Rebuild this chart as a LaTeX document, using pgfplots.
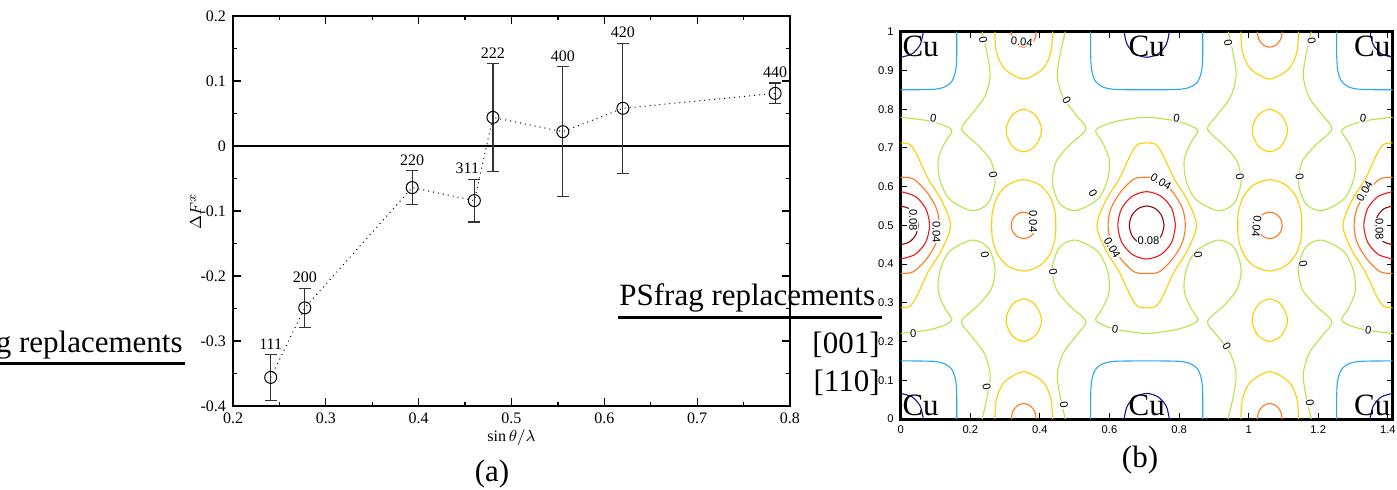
\documentclass[border=0pt]{standalone}
\usepackage{pgfplots}
\pgfplotsset{compat=1.18}
\usepackage{fontspec}
\setmainfont{Liberation Serif}
\setsansfont{Liberation Sans}
\definecolor{cdb}{RGB}{20,20,140}
\definecolor{clb}{RGB}{40,170,240}
\definecolor{cgr}{RGB}{180,230,70}
\definecolor{cye}{RGB}{255,205,0}
\definecolor{cor}{RGB}{255,120,30}
\definecolor{cre}{RGB}{235,25,25}
\definecolor{cdr}{RGB}{140,10,10}
\newcommand\bigf{\fontsize{15.5}{18}\selectfont}
\tikzset{
  cont/.style={smooth, line width=0.55pt},
  clab/.style={font=\sffamily\fontsize{5.6}{6}\selectfont, fill=white, inner sep=0.3pt},
}
\begin{document}
\begin{tikzpicture}
\path[use as bounding box] (0,0) rectangle (698.5pt,244.5pt);

% ---------- (a) ----------
\begin{axis}[
    at={(116.5pt,41.5pt)}, anchor=south west,
    scale only axis, width=278.5pt, height=195pt,
    xmin=0.2, xmax=0.8, ymin=-0.4, ymax=0.2,
    xtick={0.2,0.3,0.4,0.5,0.6,0.7,0.8},
    ytick={-0.4,-0.3,-0.2,-0.1,0,0.1,0.2},
    minor tick num=1, tick align=inside,
    major tick length=4pt, minor tick length=2pt,
    axis line style={line width=0.6pt},
    every tick/.style={black, line width=0.6pt},
    /pgf/number format/assume math mode=true,
    /pgf/number format/fixed, /pgf/number format/precision=1,
    tick label style={font=\fontsize{8}{8}\selectfont},
    xlabel={$\sin\theta/\lambda$}, ylabel={$\Delta F^{x}$},
    label style={font=\footnotesize},
    xlabel style={at={(axis description cs:0.5,-0.08)}, anchor=center},
    ylabel style={at={(axis description cs:-0.067,0.5)}, anchor=center},
]
\addplot[black, line width=0.6pt] coordinates {(0.2,0) (0.8,0)};
\addplot[black, dotted, line width=0.5pt, mark=o, mark size=3pt,
    mark options={solid, line width=0.5pt},
    error bars/.cd, y dir=both, y explicit,
    error bar style={solid, line width=0.6pt, black!80},
    error mark options={rotate=90, mark size=3pt, solid, line width=0.6pt, black!80}]
coordinates {
  (0.2406,-0.356) +- (0,0.035)
  (0.2773,-0.249) +- (0,0.030)
  (0.3930,-0.064) +- (0,0.026)
  (0.4600,-0.084) +- (0,0.033)
  (0.4800,0.044) +- (0,0.083)
  (0.5553,0.022) +- (0,0.100)
  (0.6200,0.058) +- (0,0.100)
  (0.7840,0.081) +- (0,0.016)};
\begin{scope}[every node/.style={font=\fontsize{8}{8}\selectfont, anchor=south, inner sep=0pt, yshift=2.5pt}]
\node at (axis cs:0.2406,-0.321) {111};
\node at (axis cs:0.2773,-0.219) {200};
\node at (axis cs:0.3930,-0.038) {220};
\node at (axis cs:0.4524,-0.051) {311};
\node at (axis cs:0.4800,0.127) {222};
\node at (axis cs:0.5553,0.122) {400};
\node at (axis cs:0.6200,0.158) {420};
\node at (axis cs:0.7840,0.097) {440};
\end{scope}
\end{axis}

% ---------- (b) ----------
\begin{axis}[
    at={(450.35pt,35pt)}, anchor=south west,
    scale only axis, width=246pt, height=193.65pt,
    xmin=0, xmax=1.414, ymin=0, ymax=1,
    xtick={0,0.2,0.4,0.6,0.8,1,1.2,1.4},
    ytick={0,0.1,0.2,0.3,0.4,0.5,0.6,0.7,0.8,0.9,1},
    tick align=inside, major tick length=3pt,
    axis line style={line width=1.5pt},
    every tick/.style={black, line width=0.5pt},
    /pgf/number format/assume math mode=true,
    tick label style={font=\sffamily\fontsize{5.6}{6}\selectfont},
]
% dark blue
\addplot[cont, cdb] coordinates {(0.065,0) (0.0563,0.033) (0.0325,0.0572) (0,0.066)};
\addplot[cont, cdb] coordinates {(0.642,0) (0.6507,0.033) (0.6745,0.0572) (0.707,0.066) (0.7395,0.0572) (0.7633,0.033) (0.772,0)};
\addplot[cont, cdb] coordinates {(1.349,0) (1.3577,0.033) (1.3815,0.0572) (1.414,0.066)};
\addplot[cont, cdb] coordinates {(0.065,1) (0.0563,0.967) (0.0325,0.9428) (0,0.934)};
\addplot[cont, cdb] coordinates {(0.642,1) (0.6507,0.967) (0.6745,0.9428) (0.707,0.934) (0.7395,0.9428) (0.7633,0.967) (0.772,1)};
\addplot[cont, cdb] coordinates {(1.349,1) (1.3577,0.967) (1.3815,0.9428) (1.414,0.934)};
% light blue
\addplot[cont, clb] coordinates {(0.161,0) (0.161,0.06) (0.158,0.1) (0.147,0.128) (0.125,0.143) (0.09,0.149) (0,0.15)};
\addplot[cont, clb] coordinates {(0.546,0) (0.546,0.06) (0.549,0.1) (0.56,0.128) (0.582,0.143) (0.617,0.149) (0.707,0.15) (0.797,0.149) (0.832,0.143) (0.854,0.128) (0.865,0.1) (0.868,0.06) (0.868,0)};
\addplot[cont, clb] coordinates {(1.253,0) (1.253,0.06) (1.256,0.1) (1.267,0.128) (1.289,0.143) (1.324,0.149) (1.414,0.15)};
\addplot[cont, clb] coordinates {(0.161,1) (0.161,0.94) (0.158,0.9) (0.147,0.872) (0.125,0.857) (0.09,0.851) (0,0.85)};
\addplot[cont, clb] coordinates {(0.546,1) (0.546,0.94) (0.549,0.9) (0.56,0.872) (0.582,0.857) (0.617,0.851) (0.707,0.85) (0.797,0.851) (0.832,0.857) (0.854,0.872) (0.865,0.9) (0.868,0.94) (0.868,1)};
\addplot[cont, clb] coordinates {(1.253,1) (1.253,0.94) (1.256,0.9) (1.267,0.872) (1.289,0.857) (1.324,0.851) (1.414,0.85)};
% zero level
\addplot[cont, cgr] coordinates {(0,0.221) (0.08,0.230) (0.127,0.243) (0.147,0.257) (0.127,0.286) (0.108,0.329) (0.112,0.380) (0.140,0.432) (0.204,0.462) (0.250,0.444) (0.271,0.390) (0.260,0.335) (0.223,0.294) (0.175,0.252) (0.200,0.218) (0.240,0.170) (0.257,0.115) (0.248,0.055) (0.234,0)};
\addplot[cont, cgr] coordinates {(0,0.779) (0.08,0.770) (0.127,0.757) (0.147,0.743) (0.127,0.714) (0.108,0.671) (0.112,0.620) (0.140,0.568) (0.204,0.538) (0.250,0.556) (0.271,0.610) (0.260,0.665) (0.223,0.706) (0.175,0.748) (0.200,0.782) (0.240,0.830) (0.257,0.885) (0.248,0.945) (0.234,1)};
\addplot[cont, cgr] coordinates {(0.473,0) (0.459,0.055) (0.450,0.115) (0.467,0.170) (0.507,0.218) (0.532,0.252) (0.484,0.294) (0.447,0.335) (0.436,0.390) (0.457,0.444) (0.503,0.462) (0.567,0.432) (0.595,0.380) (0.599,0.329) (0.580,0.286) (0.560,0.257) (0.580,0.243) (0.627,0.230) (0.707,0.221) (0.787,0.230) (0.834,0.243) (0.854,0.257) (0.834,0.286) (0.815,0.329) (0.819,0.380) (0.847,0.432) (0.911,0.462) (0.957,0.444) (0.978,0.390) (0.967,0.335) (0.930,0.294) (0.882,0.252) (0.907,0.218) (0.947,0.170) (0.964,0.115) (0.955,0.055) (0.941,0)};
\addplot[cont, cgr] coordinates {(0.473,1) (0.459,0.945) (0.450,0.885) (0.467,0.830) (0.507,0.782) (0.532,0.748) (0.484,0.706) (0.447,0.665) (0.436,0.610) (0.457,0.556) (0.503,0.538) (0.567,0.568) (0.595,0.620) (0.599,0.671) (0.580,0.714) (0.560,0.743) (0.580,0.757) (0.627,0.770) (0.707,0.779) (0.787,0.770) (0.834,0.757) (0.854,0.743) (0.834,0.714) (0.815,0.671) (0.819,0.620) (0.847,0.568) (0.911,0.538) (0.957,0.556) (0.978,0.610) (0.967,0.665) (0.930,0.706) (0.882,0.748) (0.907,0.782) (0.947,0.830) (0.964,0.885) (0.955,0.945) (0.941,1)};
\addplot[cont, cgr] coordinates {(1.180,0) (1.166,0.055) (1.157,0.115) (1.174,0.170) (1.214,0.218) (1.239,0.252) (1.191,0.294) (1.154,0.335) (1.143,0.390) (1.164,0.444) (1.210,0.462) (1.274,0.432) (1.302,0.380) (1.306,0.329) (1.287,0.286) (1.267,0.257) (1.287,0.243) (1.334,0.230) (1.414,0.221)};
\addplot[cont, cgr] coordinates {(1.180,1) (1.166,0.945) (1.157,0.885) (1.174,0.830) (1.214,0.782) (1.239,0.748) (1.191,0.706) (1.154,0.665) (1.143,0.610) (1.164,0.556) (1.210,0.538) (1.274,0.568) (1.302,0.620) (1.306,0.671) (1.287,0.714) (1.267,0.743) (1.287,0.757) (1.334,0.770) (1.414,0.779)};
% yellow
\addplot[cont, cye] coordinates {(0,0.713) (0.026,0.709) (0.045,0.685) (0.079,0.62) (0.117,0.565) (0.143,0.5) (0.117,0.435) (0.079,0.38) (0.045,0.315) (0.026,0.291) (0,0.287)};
\addplot[cont, cye] coordinates {(0.707,0.713) (0.733,0.709) (0.752,0.685) (0.786,0.62) (0.824,0.565) (0.850,0.5) (0.824,0.435) (0.786,0.38) (0.752,0.315) (0.733,0.291) (0.707,0.287) (0.681,0.291) (0.662,0.315) (0.628,0.38) (0.590,0.435) (0.564,0.5) (0.590,0.565) (0.628,0.62) (0.662,0.685) (0.681,0.709) (0.707,0.713)};
\addplot[cont, cye] coordinates {(1.414,0.713) (1.388,0.709) (1.369,0.685) (1.335,0.62) (1.297,0.565) (1.271,0.5) (1.297,0.435) (1.335,0.38) (1.369,0.315) (1.388,0.291) (1.414,0.287)};
\addplot[cont, cye] coordinates {(0.2615,0.5) (0.2635,0.535) (0.2785,0.575) (0.3085,0.605) (0.3535,0.618) (0.3985,0.605) (0.4285,0.575) (0.4435,0.535) (0.4455,0.5) (0.4435,0.465) (0.4285,0.425) (0.3985,0.395) (0.3535,0.382) (0.3085,0.395) (0.2785,0.425) (0.2635,0.465) (0.2615,0.5)};
\addplot[cont, cye] coordinates {(0.9685,0.5) (0.9705,0.535) (0.9855,0.575) (1.0155,0.605) (1.0605,0.618) (1.1055,0.605) (1.1355,0.575) (1.1505,0.535) (1.1525,0.5) (1.1505,0.465) (1.1355,0.425) (1.1055,0.395) (1.0605,0.382) (1.0155,0.395) (0.9855,0.425) (0.9705,0.465) (0.9685,0.5)};
\addplot[cont, cye] coordinates {(0.3035,0.245) (0.3055,0.27) (0.3235,0.298) (0.3535,0.31) (0.3835,0.298) (0.4015,0.27) (0.4035,0.245) (0.3865,0.215) (0.3535,0.2) (0.3205,0.215) (0.3035,0.245)};
\addplot[cont, cye] coordinates {(0.3035,0.755) (0.3055,0.73) (0.3235,0.702) (0.3535,0.69) (0.3835,0.702) (0.4015,0.73) (0.4035,0.755) (0.3865,0.785) (0.3535,0.8) (0.3205,0.785) (0.3035,0.755)};
\addplot[cont, cye] coordinates {(1.0105,0.245) (1.0125,0.27) (1.0305,0.298) (1.0605,0.31) (1.0905,0.298) (1.1085,0.27) (1.1105,0.245) (1.0935,0.215) (1.0605,0.2) (1.0275,0.215) (1.0105,0.245)};
\addplot[cont, cye] coordinates {(1.0105,0.755) (1.0125,0.73) (1.0305,0.702) (1.0605,0.69) (1.0905,0.702) (1.1085,0.73) (1.1105,0.755) (1.0935,0.785) (1.0605,0.8) (1.0275,0.785) (1.0105,0.755)};
\addplot[cont, cye] coordinates {(0.2705,0) (0.2755,0.053) (0.2985,0.096) (0.3535,0.122) (0.4085,0.096) (0.4315,0.053) (0.4365,0)};
\addplot[cont, cye] coordinates {(0.2705,1) (0.2755,0.947) (0.2985,0.904) (0.3535,0.878) (0.4085,0.904) (0.4315,0.947) (0.4365,1)};
\addplot[cont, cye] coordinates {(0.9775,0) (0.9825,0.053) (1.0055,0.096) (1.0605,0.122) (1.1155,0.096) (1.1385,0.053) (1.1435,0)};
\addplot[cont, cye] coordinates {(0.9775,1) (0.9825,0.947) (1.0055,0.904) (1.0605,0.878) (1.1155,0.904) (1.1385,0.947) (1.1435,1)};
% orange
\addplot[cont, cor] coordinates {(0,0.624) (0.036,0.62) (0.075,0.586) (0.103,0.543) (0.111,0.5) (0.103,0.457) (0.075,0.414) (0.036,0.38) (0,0.376)};
\addplot[cont, cor] coordinates {(0.707,0.624) (0.743,0.62) (0.782,0.586) (0.810,0.543) (0.818,0.5) (0.810,0.457) (0.782,0.414) (0.743,0.38) (0.707,0.376) (0.671,0.38) (0.632,0.414) (0.604,0.457) (0.596,0.5) (0.604,0.543) (0.632,0.586) (0.671,0.62) (0.707,0.624)};
\addplot[cont, cor] coordinates {(1.414,0.624) (1.378,0.62) (1.339,0.586) (1.311,0.543) (1.303,0.5) (1.311,0.457) (1.339,0.414) (1.378,0.38) (1.414,0.376)};
\addplot[cont, cor] coordinates {(0.3895,0.5) (0.3847,0.517) (0.3715,0.5294) (0.3535,0.534) (0.3355,0.5294) (0.3223,0.517) (0.3175,0.5) (0.3223,0.483) (0.3355,0.4706) (0.3535,0.466) (0.3715,0.4706) (0.3847,0.483) (0.3895,0.5)};
\addplot[cont, cor] coordinates {(1.0965,0.5) (1.0917,0.517) (1.0785,0.5294) (1.0605,0.534) (1.0425,0.5294) (1.0293,0.517) (1.0245,0.5) (1.0293,0.483) (1.0425,0.4706) (1.0605,0.466) (1.0785,0.4706) (1.0917,0.483) (1.0965,0.5)};
\addplot[cont, cor] coordinates {(0.3175,0) (0.3223,0.02) (0.3355,0.0346) (0.3535,0.04) (0.3715,0.0346) (0.3847,0.02) (0.3895,0)};
\addplot[cont, cor] coordinates {(0.3175,1) (0.3223,0.98) (0.3355,0.9654) (0.3535,0.96) (0.3715,0.9654) (0.3847,0.98) (0.3895,1)};
\addplot[cont, cor] coordinates {(1.0245,0) (1.0293,0.02) (1.0425,0.0346) (1.0605,0.04) (1.0785,0.0346) (1.0917,0.02) (1.0965,0)};
\addplot[cont, cor] coordinates {(1.0245,1) (1.0293,0.98) (1.0425,0.9654) (1.0605,0.96) (1.0785,0.9654) (1.0917,0.98) (1.0965,1)};
% red
\addplot[cont, cre] coordinates {(0,0.587) (0.0415,0.575) (0.0719,0.5435) (0.083,0.5) (0.0719,0.4565) (0.0415,0.425) (0,0.413)};
\addplot[cont, cre] coordinates {(0.790,0.5) (0.779,0.5435) (0.7485,0.575) (0.707,0.587) (0.6655,0.575) (0.635,0.5435) (0.624,0.5) (0.635,0.4565) (0.6655,0.425) (0.707,0.413) (0.7485,0.425) (0.779,0.4565) (0.790,0.5)};
\addplot[cont, cre] coordinates {(1.414,0.587) (1.3725,0.575) (1.342,0.5435) (1.331,0.5) (1.342,0.4565) (1.3725,0.425) (1.414,0.413)};
% dark red
\addplot[cont, cdr] coordinates {(0,0.55) (0.025,0.543) (0.043,0.525) (0.05,0.5) (0.043,0.475) (0.025,0.457) (0,0.45)};
\addplot[cont, cdr] coordinates {(0.757,0.5) (0.750,0.525) (0.732,0.543) (0.707,0.55) (0.682,0.543) (0.664,0.525) (0.657,0.5) (0.664,0.475) (0.682,0.457) (0.707,0.45) (0.732,0.457) (0.750,0.475) (0.757,0.5)};
\addplot[cont, cdr] coordinates {(1.414,0.55) (1.389,0.543) (1.371,0.525) (1.364,0.5) (1.371,0.475) (1.389,0.457) (1.414,0.45)};
% contour labels
\node[clab, rotate=-80] at (axis cs:0.237,0.979) {0};
\node[clab, rotate=-5] at (axis cs:0.348,0.974) {0.04};
\node[clab, rotate=-60] at (axis cs:0.477,0.824) {0};
\node[clab, rotate=-80] at (axis cs:0.941,0.970) {0};
\node[clab, rotate=-80] at (axis cs:1.181,0.975) {0};
\node[clab, rotate=-10] at (axis cs:0.094,0.776) {0};
\node[clab, rotate=-10] at (axis cs:0.793,0.776) {0};
\node[clab, rotate=-10] at (axis cs:1.329,0.776) {0};
\node[clab, rotate=-80] at (axis cs:0.266,0.630) {0};
\node[clab, rotate=-60] at (axis cs:0.553,0.583) {0};
\node[clab, rotate=-80] at (axis cs:0.975,0.626) {0};
\node[clab, rotate=-80] at (axis cs:1.147,0.626) {0};
\node[clab, rotate=-80] at (axis cs:0.242,0.423) {0};
\node[clab, rotate=-80] at (axis cs:0.4385,0.380) {0};
\node[clab, rotate=-80] at (axis cs:0.855,0.423) {0};
\node[clab, rotate=-80] at (axis cs:1.157,0.400) {0};
\node[clab] at (axis cs:0.036,0.221) {0};
\node[clab, rotate=-10] at (axis cs:0.616,0.231) {0};
\node[clab, rotate=-60] at (axis cs:0.937,0.188) {0};
\node[clab, rotate=-10] at (axis cs:1.344,0.228) {0};
\node[clab, rotate=-80] at (axis cs:0.247,0.083) {0};
\node[clab, rotate=-80] at (axis cs:0.469,0.036) {0};
\node[clab, rotate=-80] at (axis cs:1.176,0.042) {0};
\node[clab, rotate=-30] at (axis cs:0.748,0.612) {0.04};
\node[clab] at (axis cs:0.712,0.460) {0.08};
\node[clab, rotate=-60] at (axis cs:0.608,0.442) {0.04};
\node[clab, rotate=-90] at (axis cs:0.036,0.514) {0.08};
\node[clab, rotate=-90] at (axis cs:0.103,0.483) {0.04};
\node[clab, rotate=-90] at (axis cs:0.381,0.510) {0.04};
\node[clab, rotate=-95] at (axis cs:1.023,0.497) {0.04};
\node[clab, rotate=60] at (axis cs:1.333,0.588) {0.04};
\node[clab, rotate=-90] at (axis cs:1.376,0.490) {0.08};
% atoms
\begin{scope}[every node/.style={font=\bigf, inner sep=0pt}]
\node[anchor=base west, xshift=0.7pt, yshift=2pt] at (axis cs:0,0) {Cu};
\node[anchor=base, yshift=2pt] at (axis cs:0.707,0) {Cu};
\node[anchor=base east, xshift=-1pt, yshift=2pt] at (axis cs:1.414,0) {Cu};
\node[anchor=base west, xshift=0.7pt, yshift=-12.6pt] at (axis cs:0,1) {Cu};
\node[anchor=base, yshift=-12.6pt] at (axis cs:0.707,1) {Cu};
\node[anchor=base east, xshift=-1pt, yshift=-12.6pt] at (axis cs:1.414,1) {Cu};
\end{scope}
\end{axis}

% ---------- loose text ----------
\node[anchor=base east, inner sep=0pt, font=\bigf] at (91.5pt,68.5pt) {PSfrag replacements};
\draw[line width=1.5pt] (0,62.8pt) -- (92.5pt,62.8pt);
\node[anchor=base west, inner sep=0pt, font=\bigf] at (309.5pt,92pt) {PSfrag replacements};
\draw[line width=1.5pt] (309pt,86pt) -- (441pt,86pt);
\node[anchor=base east, inner sep=0pt, font=\bigf] at (440pt,67.8pt) {[001]};
\node[anchor=base east, inner sep=0pt, font=\bigf] at (440pt,48.7pt) {[110]};
\node[anchor=base, inner sep=0pt, font=\bigf] at (246pt,3.8pt) {(a)};
\node[anchor=base, inner sep=0pt, font=\bigf] at (570pt,10.6pt) {(b)};
\end{tikzpicture}
\end{document}
